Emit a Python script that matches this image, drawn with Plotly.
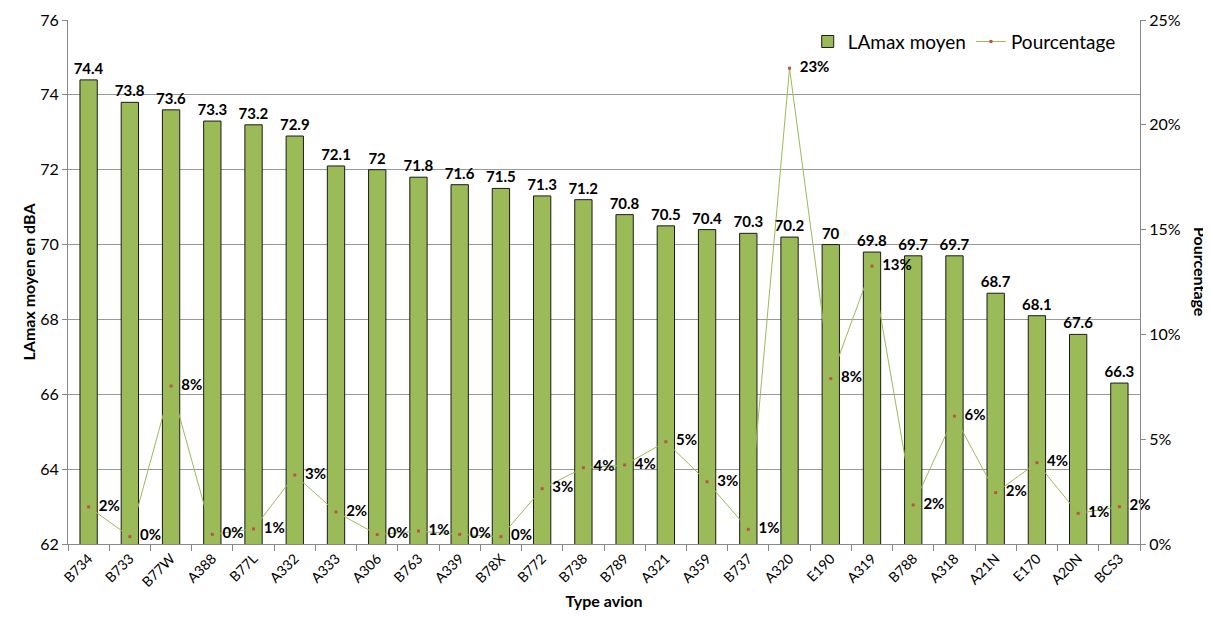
import plotly.graph_objects as go

types = ["B734","B733","B77W","A388","B77L","A332","A333","A306","B763","A339","B78X","B772","B738",
         "B789","A321","A359","B737","A320","E190","A319","B788","A318","A21N","E170","A20N","BCS3"]
lamax = [74.4,73.8,73.6,73.3,73.2,72.9,72.1,72,71.8,71.6,71.5,71.3,71.2,70.8,70.5,70.4,70.3,70.2,70,
         69.8,69.7,69.7,68.7,68.1,67.6,66.3]
pct = [1.77,0.35,7.54,0.46,0.72,3.29,1.53,0.45,0.62,0.46,0.35,2.64,3.64,3.77,4.88,2.97,0.70,22.7,
       7.89,13.26,1.86,6.1,2.45,3.88,1.46,1.78]
pct_frac = [p/100 for p in pct]
pct_labels = [f"{round(p):d}%" for p in pct]
bar_labels = [("%g" % v) for v in lamax]

FONT = "Lato, Carlito, 'Open Sans', sans-serif"

fig = go.Figure()
fig.add_trace(go.Bar(
    x=types, y=lamax, name="LAmax moyen",
    marker=dict(color="#9BBB59", line=dict(color="#1a1a1a", width=1)),
    text=bar_labels, textposition="outside", cliponaxis=False, constraintext="none",
    textfont=dict(family=FONT, size=15, color="#000000", weight="bold"),
))
fig.add_trace(go.Scatter(
    x=types, y=pct_frac, name="Pourcentage", yaxis="y2",
    mode="lines+markers+text",
    line=dict(color="#9BBB59", width=1),
    marker=dict(color="#C0504D", size=3, symbol="square"),
    text=["  " + t for t in pct_labels], textposition="middle right",
    textfont=dict(family=FONT, size=15, color="#000000", weight="bold"),
    cliponaxis=False,
))

fig.update_layout(
    width=1203, height=622,
    margin=dict(l=60, r=71, t=12, b=86),
    paper_bgcolor="white", plot_bgcolor="white",
    font=dict(family=FONT, size=14, color="#000000"),
    bargap=0.58,
    showlegend=True,
    legend=dict(orientation="h", x=0.982, y=0.995, xanchor="right", yanchor="top",
                font=dict(size=19), bgcolor="rgba(255,255,255,0)", traceorder="normal"),
    xaxis=dict(
        title=dict(text="<b>Type avion</b>", font=dict(size=16), standoff=6),
        range=[-0.5, len(types) - 0.5], autorange=False,
        tickangle=-45, ticks="outside", tickson="boundaries", ticklen=6, tickcolor="#888",
        showline=True, linecolor="#888", linewidth=1, showgrid=False,
        tickfont=dict(size=14), automargin=False,
    ),
    yaxis=dict(
        title=dict(text="<b>LAmax moyen en dBA</b>", font=dict(size=16), standoff=0),
        range=[62, 76], dtick=2, tick0=62,
        showgrid=True, gridcolor="#999", gridwidth=1,
        showline=True, linecolor="#888", linewidth=1,
        ticks="outside", ticklen=5, tickcolor="#888", tickfont=dict(size=16),
        zeroline=False, automargin=False,
    ),
    yaxis2=dict(
        overlaying="y", side="right", range=[0, 0.25], dtick=0.05, tickformat=".0%",
        showgrid=False, showline=True, linecolor="#888", linewidth=1,
        ticks="outside", ticklen=5, tickcolor="#888", tickfont=dict(size=16),
        zeroline=False, automargin=False,
    ),
    annotations=[dict(
        text="<b>Pourcentage</b>", textangle=90, xref="paper", yref="paper",
        x=1.0565, y=0.52, xanchor="center", yanchor="middle", showarrow=False,
        font=dict(size=16),
    )],
)

fig.write_html("out.html")
